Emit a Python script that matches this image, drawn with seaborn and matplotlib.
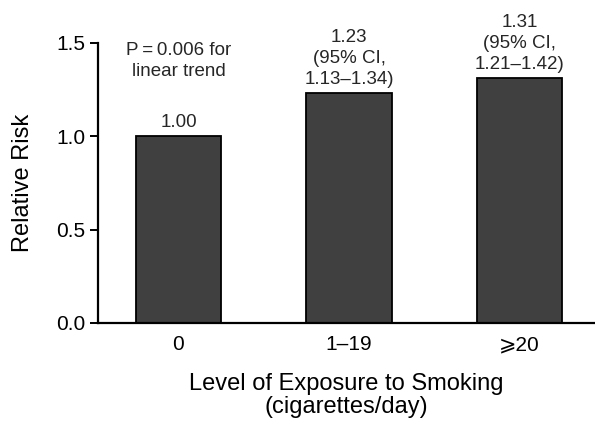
import matplotlib
matplotlib.use("Agg")
import matplotlib.pyplot as plt
import seaborn as sns
import pandas as pd

# Relative risk by smoking level
categories = ["0", "1\u201319", "\u2a7e20"]
relative_risk = [1.00, 1.23, 1.31]
value_labels = ["1.00",
                "1.23\n(95% CI,\n1.13\u20131.34)",
                "1.31\n(95% CI,\n1.21\u20131.42)"]
trend_note = "P\u2009=\u20090.006 for\nlinear trend"
y_ticks = [0.0, 0.5, 1.0, 1.5]

sns.set_theme(style="ticks")
plt.rcParams["font.family"] = ["Liberation Sans", "DejaVu Sans"]

df = pd.DataFrame({"level": categories, "rr": relative_risk})

fig = plt.figure(figsize=(5.95, 4.21), dpi=100)
ax = fig.add_axes([0.1647, 0.2328, 0.8353, 0.6658])

sns.barplot(data=df, x="level", y="rr", ax=ax, width=0.5,
            color="#404040", saturation=1, edgecolor="black",
            linewidth=1.3, errorbar=None)

ax.set_xlim(-0.472, 2.443)
ax.set_ylim(0, 1.5)
ax.set_yticks(y_ticks)
ax.set_yticklabels([f"{t:.1f}" for t in y_ticks])

for s in ["top", "right"]:
    ax.spines[s].set_visible(False)
for s in ["left", "bottom"]:
    ax.spines[s].set_linewidth(1.6)
    ax.spines[s].set_color("black")

ax.tick_params(axis="y", length=6, width=1.4, labelsize=15, pad=3, colors="black")
ax.tick_params(axis="x", length=0, labelsize=15, pad=9, colors="black")

ax.set_ylabel("Relative Risk", fontsize=17, labelpad=16, color="black")
ax.set_xlabel("Level of Exposure to Smoking\n(cigarettes/day)", fontsize=17,
              labelpad=13, color="black", linespacing=1.08)

for i, (v, lab) in enumerate(zip(relative_risk, value_labels)):
    ax.annotate(lab, xy=(i, v), xytext=(0, 4), textcoords="offset points",
                ha="center", va="bottom", fontsize=13.5, linespacing=1.3,
                annotation_clip=False)

ax.text(0, 1.4, trend_note, ha="center", va="center", fontsize=13.5,
        linespacing=1.3)

fig.savefig("out.png", dpi=100)
